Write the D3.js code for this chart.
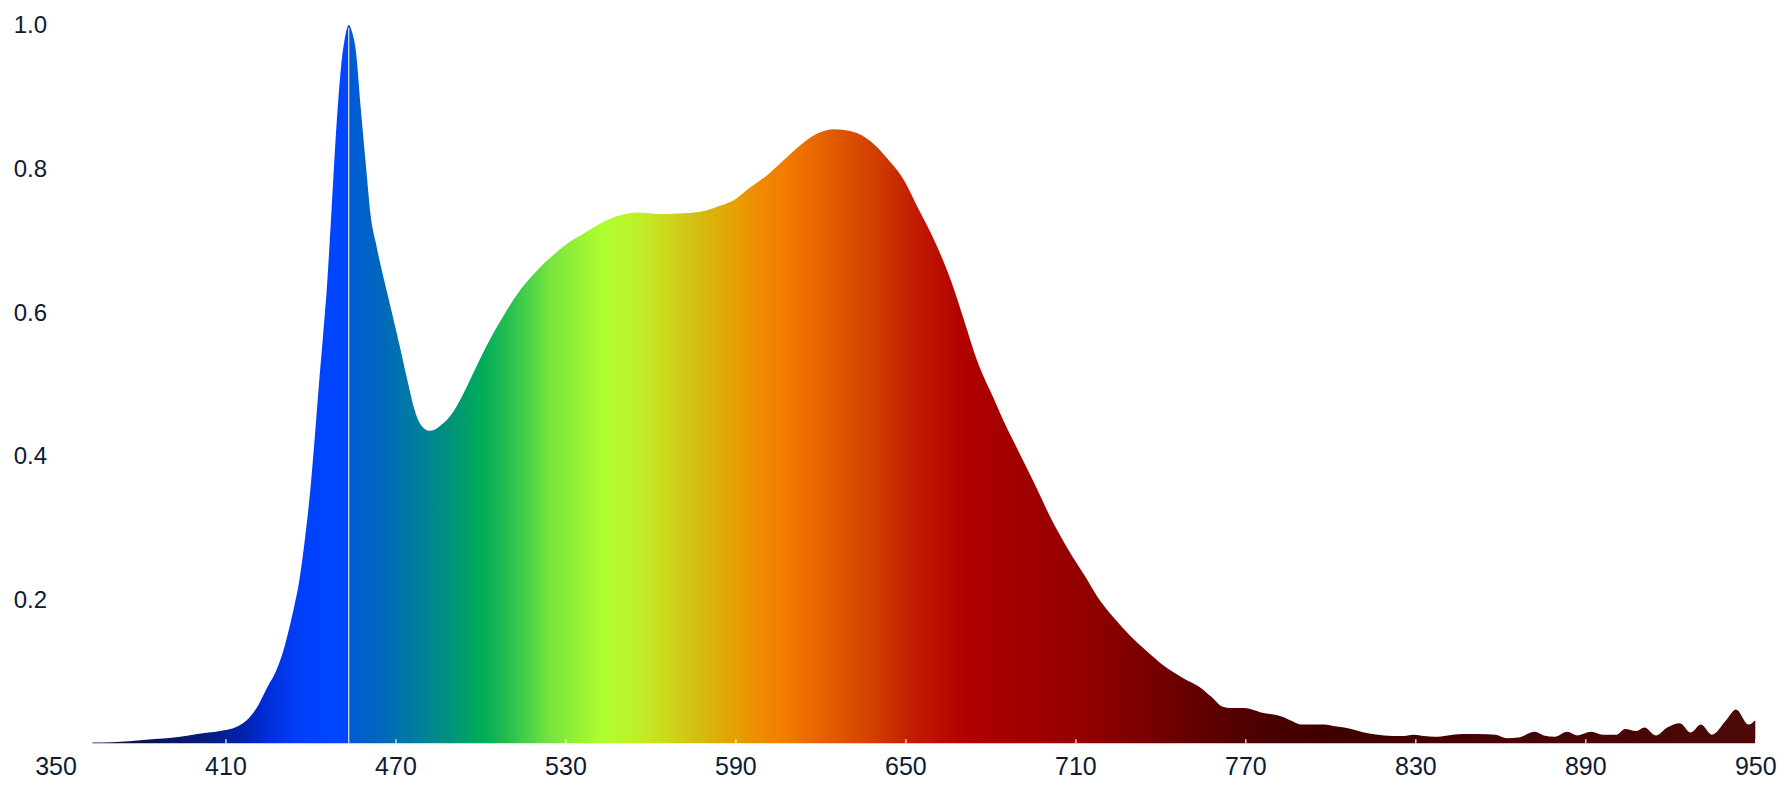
<!DOCTYPE html>
<html>
<head>
<meta charset="utf-8">
<script src="https://cdnjs.cloudflare.com/ajax/libs/d3/7.8.5/d3.min.js"></script>
<style>
  body { margin: 0; background: #fff; }
  svg { display: block; }
  .axis text { font-family: "Liberation Sans", Arial, sans-serif; fill: #0f1a33; }
</style>
</head>
<body>
<svg id="chart" width="1780" height="791"></svg>
<script>
// wavelength (nm) / relative intensity
var wavelengths = [363, 370, 382, 394, 400, 408, 414, 417.5, 421, 424.5, 428, 430.3, 432.5, 434.5, 436, 438, 440, 441.5, 443, 444.5,
  445.8, 447.3, 449, 450.8, 452.3, 453.5, 454.7, 456, 457.8, 459.6, 461.3, 463.1, 464.9, 467.2, 469.6, 471.5, 473.3, 475, 476.6, 479,
  481.9, 484, 486.1, 489.6, 493.1, 497.2, 502, 507.2, 513.1, 519, 524.9, 530.8, 536.6, 542.5, 548.4, 555.5, 563.7, 571.9, 577.7, 583.6,
  589.4, 595.3, 601.2, 607.1, 613, 618.9, 624.8, 631.8, 637.7, 643.6, 649.5, 654.2, 660.1, 666, 670.7, 675.2, 681.4, 685, 689, 695.5,
  701.4, 707.3, 713.2, 719, 724.9, 730.8, 736.7, 742.6, 748.4, 754.3, 757.9, 762, 765, 769.7, 775.5, 783.8, 787, 789.6, 797.9, 801,
  804.9, 813.2, 819, 825, 829.6, 833, 836.7, 841.4, 846.5, 852, 858.4, 862.3, 866.3, 872.2, 875.3, 879.2, 883.6, 887.1, 892.1, 896.1,
  901, 904, 908, 910.9, 914.9, 918.9, 923.4, 927.2, 930.8, 934.7, 939.7, 943.2, 947.6, 950];
var intensity = [0.001, 0.0015, 0.005, 0.009, 0.013, 0.017, 0.023, 0.032, 0.049, 0.076, 0.102, 0.127, 0.16, 0.195, 0.225, 0.283, 0.355, 0.425, 0.5, 0.57,
  0.635, 0.733, 0.849, 0.942, 0.985, 1.0, 0.99, 0.965, 0.882, 0.803, 0.733, 0.696, 0.663, 0.625, 0.585, 0.553, 0.521, 0.492, 0.466, 0.443,
  0.435, 0.437, 0.443, 0.457, 0.48, 0.513, 0.552, 0.589, 0.626, 0.654, 0.677, 0.696, 0.71, 0.724, 0.734, 0.739, 0.737, 0.738, 0.74, 0.747,
  0.756, 0.774, 0.791, 0.812, 0.833, 0.849, 0.855, 0.851, 0.838, 0.814, 0.784, 0.747, 0.701, 0.645, 0.589, 0.534, 0.478, 0.446, 0.414, 0.362,
  0.313, 0.271, 0.234, 0.197, 0.169, 0.144, 0.123, 0.104, 0.09, 0.077, 0.065, 0.051, 0.049, 0.049, 0.043, 0.036, 0.03, 0.026, 0.026, 0.024,
  0.022, 0.014, 0.011, 0.01, 0.012, 0.01, 0.009, 0.011, 0.013, 0.013, 0.012, 0.007, 0.008, 0.016, 0.011, 0.009, 0.016, 0.011, 0.016, 0.012,
  0.012, 0.02, 0.017, 0.022, 0.011, 0.022, 0.028, 0.015, 0.026, 0.012, 0.032, 0.047, 0.026, 0.032];

var xTicks = [350, 410, 470, 530, 590, 650, 710, 770, 830, 890, 950];
var yTicks = [0.2, 0.4, 0.6, 0.8, 1.0];

// spectrum colouring along the x axis
var stopNm = [362, 380, 400, 415, 425, 435, 445, 453.4, 453.6, 465, 478, 490, 500, 505, 515, 525, 537, 543, 555, 566,
  578, 590, 600, 607, 625, 640, 655, 672, 690, 710, 730, 755, 780, 800, 830, 950];
var stopColor = ["#0b0f3c", "#0c1250", "#071a78", "#0022a8", "#002ed8", "#003ef8", "#0044ff", "#0046ff", "#005ad8", "#0068bc",
  "#007f9c", "#009478", "#00ab5a", "#10b454", "#40cc4a", "#78e63c", "#9ef432", "#adff2f", "#bff02a", "#ccd81c",
  "#d6ba10", "#e6a000", "#f08800", "#f57c00", "#e05a00", "#d03c00", "#c01800", "#b00000", "#a20000", "#960000",
  "#800000", "#600000", "#480000", "#3e0000", "#420202", "#4e0808"];

var data = wavelengths.map(function(w, i) { return {nm: w, v: intensity[i]}; });

var svg = d3.select("#chart");
var x = d3.scaleLinear().domain([350, 950]).range([55.5, 1755.3]);
var y = d3.scaleLinear().domain([0, 1]).range([743.3, 25]);

var grad = svg.append("defs").append("linearGradient")
  .attr("id", "spectrum")
  .attr("gradientUnits", "userSpaceOnUse")
  .attr("x1", x(350)).attr("x2", x(950))
  .attr("y1", 0).attr("y2", 0);

grad.selectAll("stop")
  .data(stopNm)
  .enter().append("stop")
  .attr("offset", function(d) { return (d - 350) / 600; })
  .attr("stop-color", function(d, i) { return stopColor[i]; });

var area = d3.area()
  .x(function(d) { return x(d.nm); })
  .y0(y(0))
  .y1(function(d) { return y(d.v); })
  .curve(d3.curveMonotoneX);

svg.append("path")
  .datum(data)
  .attr("d", area)
  .attr("fill", "url(#spectrum)");

// thin line at the peak wavelength
var peak = data[d3.greatestIndex(data, function(d) { return d.v; })];
svg.append("line")
  .attr("x1", x(peak.nm)).attr("x2", x(peak.nm))
  .attr("y1", y(peak.v) + 3).attr("y2", y(0) + 1)
  .attr("stroke", "#e4e4c6")
  .attr("stroke-width", 1.2);

var xAxis = svg.append("g")
  .attr("class", "axis")
  .attr("transform", "translate(0," + y(0) + ")")
  .call(d3.axisBottom(x).tickValues(xTicks).tickSize(-4).tickPadding(14).tickFormat(d3.format("d")));
xAxis.select(".domain").remove();
xAxis.selectAll(".tick line").attr("stroke", "#ffffff").attr("stroke-width", 1.2);
xAxis.selectAll("text").attr("font-size", 25);

var yAxis = svg.append("g")
  .attr("class", "axis")
  .attr("transform", "translate(47,0)")
  .call(d3.axisLeft(y).tickValues(yTicks).tickSize(0).tickPadding(0).tickFormat(d3.format(".1f")));
yAxis.select(".domain").remove();
yAxis.selectAll("text").attr("font-size", 24);
</script>
</body>
</html>
